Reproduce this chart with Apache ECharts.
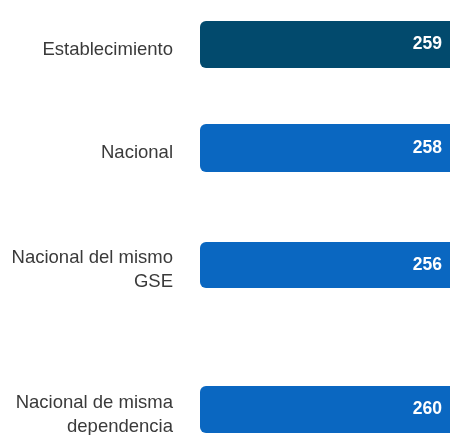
<!DOCTYPE html>
<html>
<head>
<meta charset="utf-8">
<script src="https://cdn.jsdelivr.net/npm/echarts@6/dist/echarts.min.js"></script>
<style>
html,body{margin:0;padding:0;background:#fff;}
#chart{width:450px;height:435px;}
</style>
</head>
<body>
<div id="chart"></div>
<script>
var categories = ["Establecimiento", "Nacional", "Nacional del mismo\nGSE", "Nacional de misma\ndependencia"];
var values = [259, 258, 256, 260];
var barColors = ["#024a6d", "#0a67c1", "#0a67c1", "#0a67c1"];

// layout of each bar band (top, height)
var bands = [[21, 47], [124, 48], [242, 46], [386, 47]];

var FONT = 'Liberation Sans, Arial, sans-serif';
var chart = echarts.init(document.getElementById('chart'), null, {renderer: 'canvas'});
var grids = [], xAxes = [], yAxes = [], series = [];
categories.forEach(function (cat, i) {
  grids.push({left: 200, right: 0, top: bands[i][0], height: bands[i][1],
              containLabel: false, outerBoundsMode: 'none'});
  xAxes.push({type: 'value', gridIndex: i, min: 0, max: 250, show: false});
  yAxes.push({
    type: 'category', gridIndex: i, data: [cat],
    axisLine: {show: false}, axisTick: {show: false}, splitLine: {show: false},
    axisLabel: {show: false}
  });
  // visible bar with value label
  series.push({
    type: 'bar', xAxisIndex: i, yAxisIndex: i,
    data: [values[i]], barWidth: '100%', clip: true,
    itemStyle: {color: barColors[i], borderRadius: [6, 0, 0, 6]},
    label: {
      show: true, position: 'insideRight', distance: 8, color: '#ffffff',
      fontSize: 17.5, fontWeight: 'bold', fontFamily: FONT
    },
    silent: true, animation: false
  });
  // transparent overlay carrying the category name on the left
  series.push({
    type: 'bar', xAxisIndex: i, yAxisIndex: i,
    data: [values[i]], barWidth: '100%', barGap: '-100%', clip: true,
    itemStyle: {color: 'rgba(0,0,0,0)'},
    label: {
      show: true, position: 'left', distance: 27, offset: [0, 5],
      formatter: '{b}', color: '#3a3a3a', fontSize: 18.5, fontFamily: FONT,
      align: 'right', lineHeight: 24
    },
    silent: true, animation: false
  });
});

chart.setOption({
  animation: false,
  grid: grids, xAxis: xAxes, yAxis: yAxes, series: series
});
</script>
</body>
</html>
